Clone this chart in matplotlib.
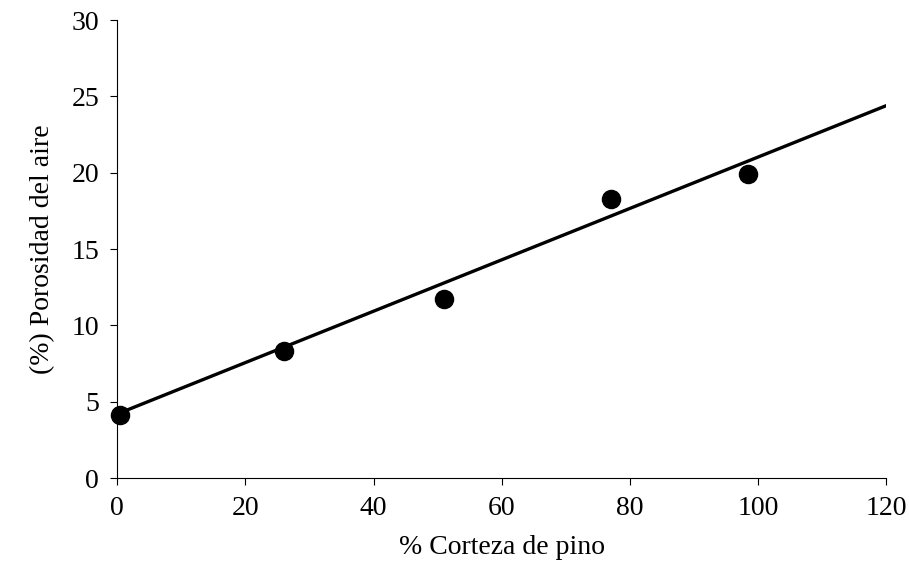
import numpy as np
import matplotlib.pyplot as plt

plt.rcParams['font.family'] = ['Liberation Serif', 'DejaVu Serif']

corteza = [0.5, 26, 51, 77, 98.5]
porosidad = [4.1, 8.3, 11.7, 18.3, 19.9]
linea_x = [0, 120]
linea_y = [4.2, 24.4]

fig = plt.figure(figsize=(9.09, 5.76), dpi=100)
ax = fig.add_axes([0.129, 0.170, 0.846, 0.795])

ax.plot(linea_x, linea_y, color='black', lw=2.4)
ax.scatter(corteza, porosidad, s=170, color='black', zorder=3, clip_on=False)

ax.set_xlim(0, 120)
ax.set_ylim(0, 30)
ax.set_xticks(range(0, 121, 20))
ax.set_yticks(range(0, 31, 5))
ax.spines['top'].set_visible(False)
ax.spines['right'].set_visible(False)
ax.tick_params(labelsize=20, direction='out', length=5, pad=8)
ax.set_xlabel('% Corteza de pino', fontsize=20, labelpad=10)
ax.set_ylabel('(%) Porosidad del aire', fontsize=20, labelpad=12)

plt.savefig('out.png', dpi=100)
